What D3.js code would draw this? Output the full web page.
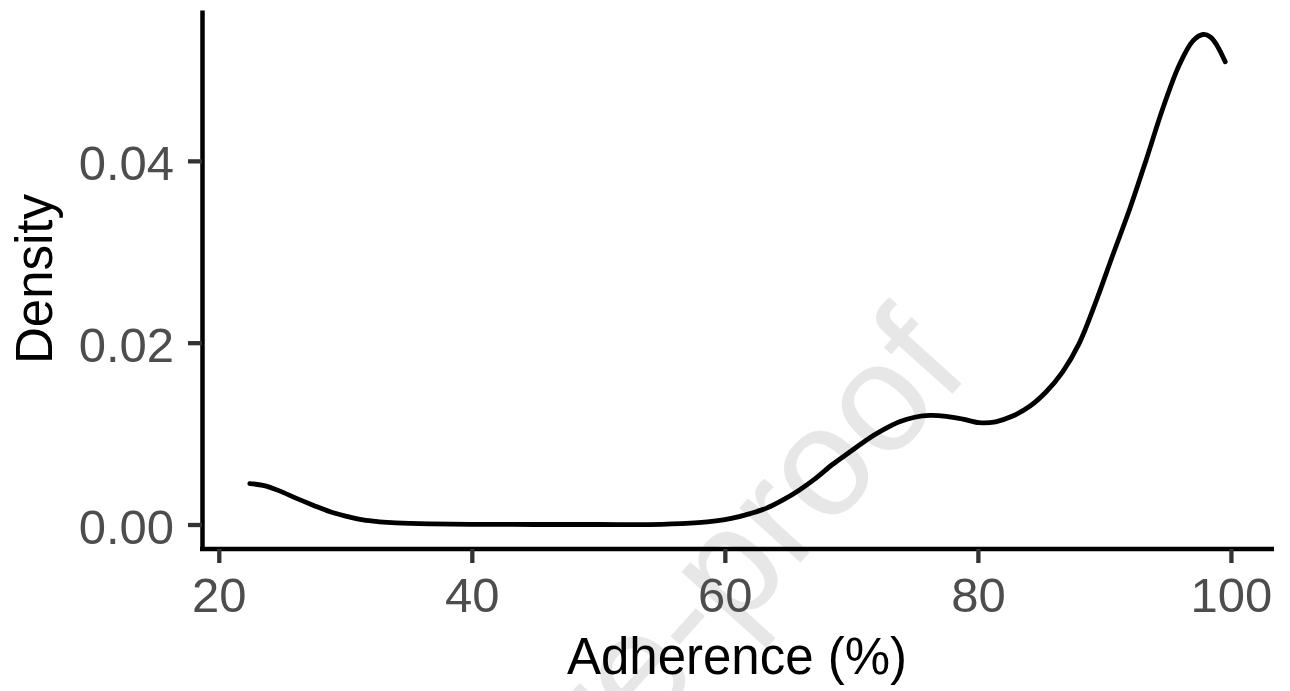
<!DOCTYPE html>
<html lang="en">
<head>
    <meta charset="UTF-8">
    <title>Adherence density</title>
    <script src="https://cdn.jsdelivr.net/npm/d3@7"></script>
    <style>
        body { margin: 0; background: #fff; }
        .tick text { font-family: 'Liberation Sans', Arial, sans-serif; font-size: 49px; fill: #4d4d4d; }
        .tick line { stroke: #333; stroke-width: 4.3; }
        .domain { stroke: #000; stroke-width: 4.5; }
        .titulo { font-family: 'Liberation Sans', Arial, sans-serif; font-size: 51px; fill: #000; }
        .marca { font-family: 'Liberation Sans', Arial, sans-serif; font-size: 155px; fill: #e7e7e7; }
        .curva { fill: none; stroke: #000; stroke-width: 4.8; stroke-linecap: round; stroke-linejoin: round; }
    </style>
</head>
<body>
<div id="grafico"></div>
<script>

// density curve
var adherence = [22.45, 23.5, 24.8, 26.1, 27.5, 28.8, 30.1, 31.4, 32.7, 34.0, 36.7, 40, 45, 50, 55,
    57.9, 59.3, 60.6, 62.0, 63.3, 64.6, 65.9, 67.2, 68.5, 69.9, 71.2, 72.5, 73.8, 75.0, 76.2,
    77.5, 78.8, 80.1, 81.4, 82.7, 84.1, 85.4, 86.7, 88.0, 89.3, 90.6, 92.0, 93.3, 94.6, 95.9,
    97.0, 97.8, 98.4, 98.9, 99.55];
var density = [0.0045, 0.0043, 0.0037, 0.0029, 0.0021, 0.0014, 0.0009, 0.0005, 0.0003, 0.00018, 0.00007, 0.00002, 0, 0, 0.00002,
    0.0002, 0.0004, 0.0007, 0.0012, 0.0018, 0.0027, 0.0038, 0.0051, 0.0066, 0.0080, 0.0093, 0.0104, 0.0113, 0.0118, 0.0120,
    0.0119, 0.0116, 0.0112, 0.0113, 0.0119, 0.0130, 0.0146, 0.0168, 0.0199, 0.0244, 0.0294, 0.0347, 0.0401, 0.0457, 0.0505,
    0.0532, 0.0539, 0.0536, 0.0527, 0.0509];
var xTicks = [20, 40, 60, 80, 100];
var yTicks = [0, 0.02, 0.04];

var w = 1290;
var h = 691;

var puntos = adherence.map(function(d, i){ return [d, density[i]]; });

// ggplot style 5% expansion
var xExt = d3.extent(adherence);
var xPad = (xExt[1] - xExt[0]) * 0.05;
var yMax = d3.max(density);
var yPad = yMax * 0.05;

var xScale = d3.scaleLinear()
    .domain([xExt[0] - xPad, xExt[1] + xPad])
    .range([201, 1274]);

var yScale = d3.scaleLinear()
    .domain([-yPad, yMax + yPad])
    .range([549, 10]);

var grafico = d3.select("#grafico")
    .append("svg")
    .attr("width", w)
    .attr("height", h);

// watermark
grafico.append("text")
    .classed("marca", true)
    .attr("text-anchor", "end")
    .attr("transform", "translate(972,372) rotate(-48)")
    .text("Journal Pre-proof");

var ejeY = grafico.append("g")
    .attr("transform", "translate(202,0)")
    .call(d3.axisLeft(yScale).tickValues(yTicks).tickFormat(d3.format(".2f")).tickSize(14).tickSizeOuter(0).tickPadding(14));
ejeY.selectAll(".tick text").attr("dy", "0.38em");

var ejeX = grafico.append("g")
    .attr("transform", "translate(0,549)")
    .call(d3.axisBottom(xScale).tickValues(xTicks).tickSize(14).tickSizeOuter(0).tickPadding(14));

ejeX.select(".domain").attr("d", "M200,0H" + xScale.range()[1]);

var linea = d3.line()
    .x(function(d){ return xScale(d[0]); })
    .y(function(d){ return yScale(d[1]); })
    .curve(d3.curveCatmullRom);

grafico.append("path")
    .datum(puntos)
    .classed("curva", true)
    .attr("d", linea);

grafico.append("text")
    .classed("titulo", true)
    .attr("x", 737)
    .attr("y", 674)
    .attr("text-anchor", "middle")
    .text("Adherence (%)");

grafico.append("text")
    .classed("titulo", true)
    .attr("transform", "translate(52,279) rotate(-90)")
    .attr("text-anchor", "middle")
    .text("Density");

</script>
</body>
</html>
